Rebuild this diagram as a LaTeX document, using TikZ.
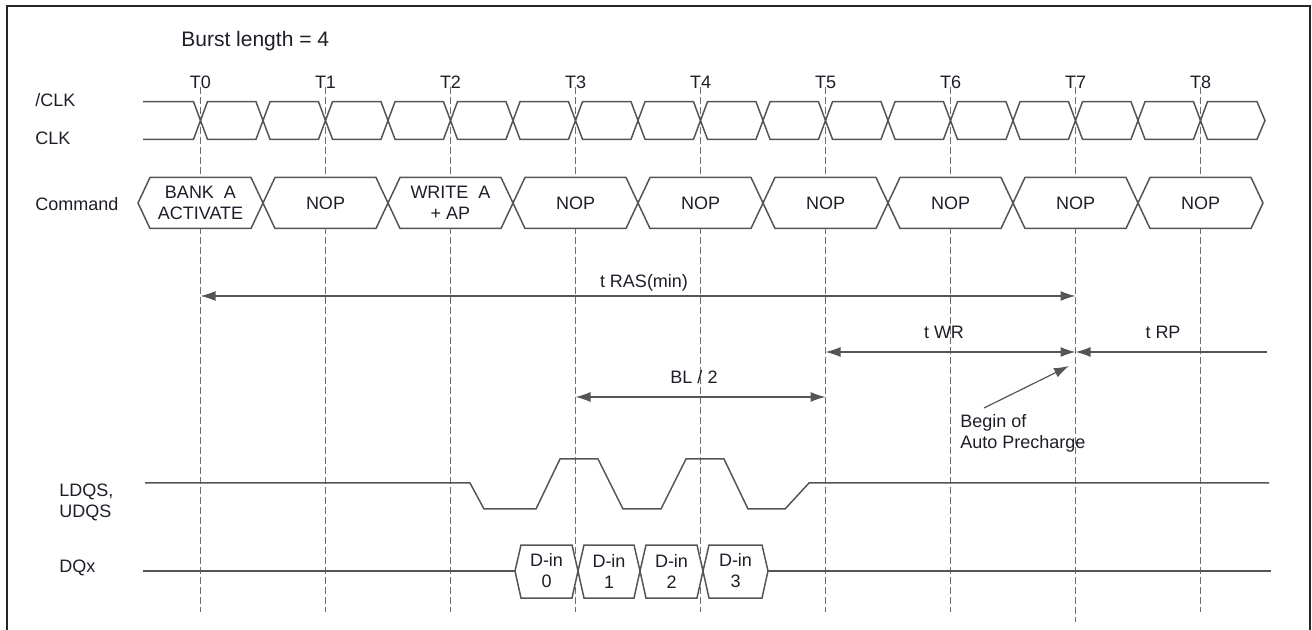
\documentclass[tikz,border=0pt]{standalone}
\usepackage{fontspec}
\setmainfont{Liberation Sans}
\usetikzlibrary{arrows.meta,positioning}

\definecolor{sigcol}{HTML}{555555}
\definecolor{txtcol}{HTML}{1E1E28}
\definecolor{tickcol}{HTML}{6E6E6E}

\tikzset{
  sig/.style={draw=sigcol, line width=0.75pt, line join=miter},
  bus/.style={sig, fill=white},
  tick/.style={draw=tickcol, line width=0.5pt, dash pattern=on 3.5pt off 1.5pt},
  lbl/.style={font=\fontsize{9}{10.5}\selectfont, text=txtcol, inner sep=0pt},
  dim/.style={draw=sigcol, line width=0.6pt, {Latex[length=7.5pt,width=5pt]}-{Latex[length=7.5pt,width=5pt]}},
  onedim/.style={draw=sigcol, line width=0.6pt, -{Latex[length=7.5pt,width=5pt]}},
}

\begin{document}
\begin{tikzpicture}[x=0.5pt,y=-0.5pt]
        \useasboundingbox (0,0) rectangle (1312,630);

        % frame
        \draw[line width=1pt, draw=black!85] (7,630) -- (7,6) -- (1310,6) -- (1310,630);

        \node[lbl, anchor=west, font=\fontsize{10.5}{12}\selectfont] (burst) at (181,41) {Burst length = 4};

        % clock ticks T0 .. T8
        \foreach \i in {0,...,8} {
          \coordinate (T\i) at ({200.5+125*\i},87);
          \node[lbl] (tlab\i) at ({200.5+125*\i},82) {T\i};
        }
        \foreach \i in {0,...,6,8} \draw[tick] (T\i) -- ++(0,525);
        \draw[tick] (T7) -- ++(0,535);

        % row names
        \node[lbl, anchor=west] (nclk) at (35,100) {/CLK};
        \node[lbl, anchor=west] (clk) at (35,138) {CLK};
        \node[lbl, anchor=west] (cmd) at (35,204) {Command};
        \node[lbl, anchor=west, align=left] (dqs) at (59,502) {LDQS,\\UDQS};
        \node[lbl, anchor=west] (dqx) at (59,568) {DQx};

        % clock pair
        \draw[sig] (143,101.7) -- (193.5,101.7) -- (200.5,120.5) -- (193.5,139.3) -- (143,139.3);
        \foreach \k in {0,...,15} {
          \pgfmathsetmacro\xa{200.5+62.5*\k}
          \pgfmathsetmacro\xb{\xa+62.5}
          \draw[sig] (\xa,120.5) -- (\xa+7,101.7) -- (\xb-7,101.7) -- (\xb,120.5) -- (\xb-7,139.3) -- (\xa+7,139.3) -- cycle;
        }
        \draw[sig] (1200.5,120.5) -- (1207.5,101.7) -- (1257,101.7) -- (1265,120.5) -- (1257,139.3) -- (1207.5,139.3) -- cycle;

        % command bus
        \foreach \k in {0,...,8} {
          \pgfmathsetmacro\xa{138+125*\k}
          \pgfmathsetmacro\xb{\xa+125}
          \draw[bus] (\xa,203) -- (\xa+12,177.5) -- (\xb-12,177.5) -- (\xb,203) -- (\xb-12,228.5) -- (\xa+12,228.5) -- cycle;
        }
        \node[lbl, align=center] (c0) at (T0 |- 0,203) {BANK\ \ A\\ACTIVATE};
        \node[lbl] (c1) at (T1 |- 0,203) {NOP};
        \node[lbl, align=center] (c2) at (T2 |- 0,203) {WRITE\ \ A\\+ AP};
        \node[lbl] (c3) at (T3 |- 0,203) {NOP};
        \node[lbl] (c4) at (T4 |- 0,203) {NOP};
        \node[lbl] (c5) at (T5 |- 0,203) {NOP};
        \node[lbl] (c6) at (T6 |- 0,203) {NOP};
        \node[lbl] (c7) at (T7 |- 0,203) {NOP};
        \node[lbl] (c8) at (T8 |- 0,203) {NOP};

        % timing parameters
        \node[lbl] (tras) at (644,283) {t RAS(min)};
        \draw[dim] (T0 |- 0,296) -- (T7 |- 0,296);
        \node[lbl] (twr) at (944,332) {t WR};
        \draw[dim] (T5 |- 0,352) -- (T7 |- 0,352);
        \node[lbl] (trp) at (1163,332) {t RP};
        \coordinate (trpend) at (1267,352);
        \draw[onedim] (trpend) -- (T7 |- 0,352);
        \node[lbl] (bl) at (694,377) {BL / 2};
        \draw[dim] (T3 |- 0,397) -- (T5 |- 0,397);

        \node[lbl, anchor=west, align=left] (apre) at (960,433) {Begin of\\Auto Precharge};
        \coordinate (apretail) at (984,408);
        \coordinate (apretip) at (1069,366);
        \draw[onedim] (apretail) -- (apretip);

        % data strobe
        \draw[sig] (145,483) -- (470,483) -- (484,509) -- (536,509) -- (560,459) -- (598,459)
          -- (623,509) -- (661,509) -- (686,459) -- (724,459) -- (748,509) -- (785,509)
          -- (809,483) -- (1269,483);

        % data bus
        \draw[sig] (143,571) -- (515,571);
        \draw[sig] (768,571) -- (1271,571);
        \foreach \xa/\xb in {515/578, 578/640, 640/703, 703/768} {
          \draw[bus] (\xa,571) -- (\xa+6,545) -- (\xb-6,545) -- (\xb,571) -- (\xb-6,598) -- (\xa+6,598) -- cycle;
        }
        \node[lbl, align=center] (d0) at (546.5,571) {D-in\\0};
        \node[lbl, align=center] (d1) at (609,571) {D-in\\1};
        \node[lbl, align=center] (d2) at (671.5,571) {D-in\\2};
        \node[lbl, align=center] (d3) at (735.5,571) {D-in\\3};

\end{tikzpicture}
\end{document}
